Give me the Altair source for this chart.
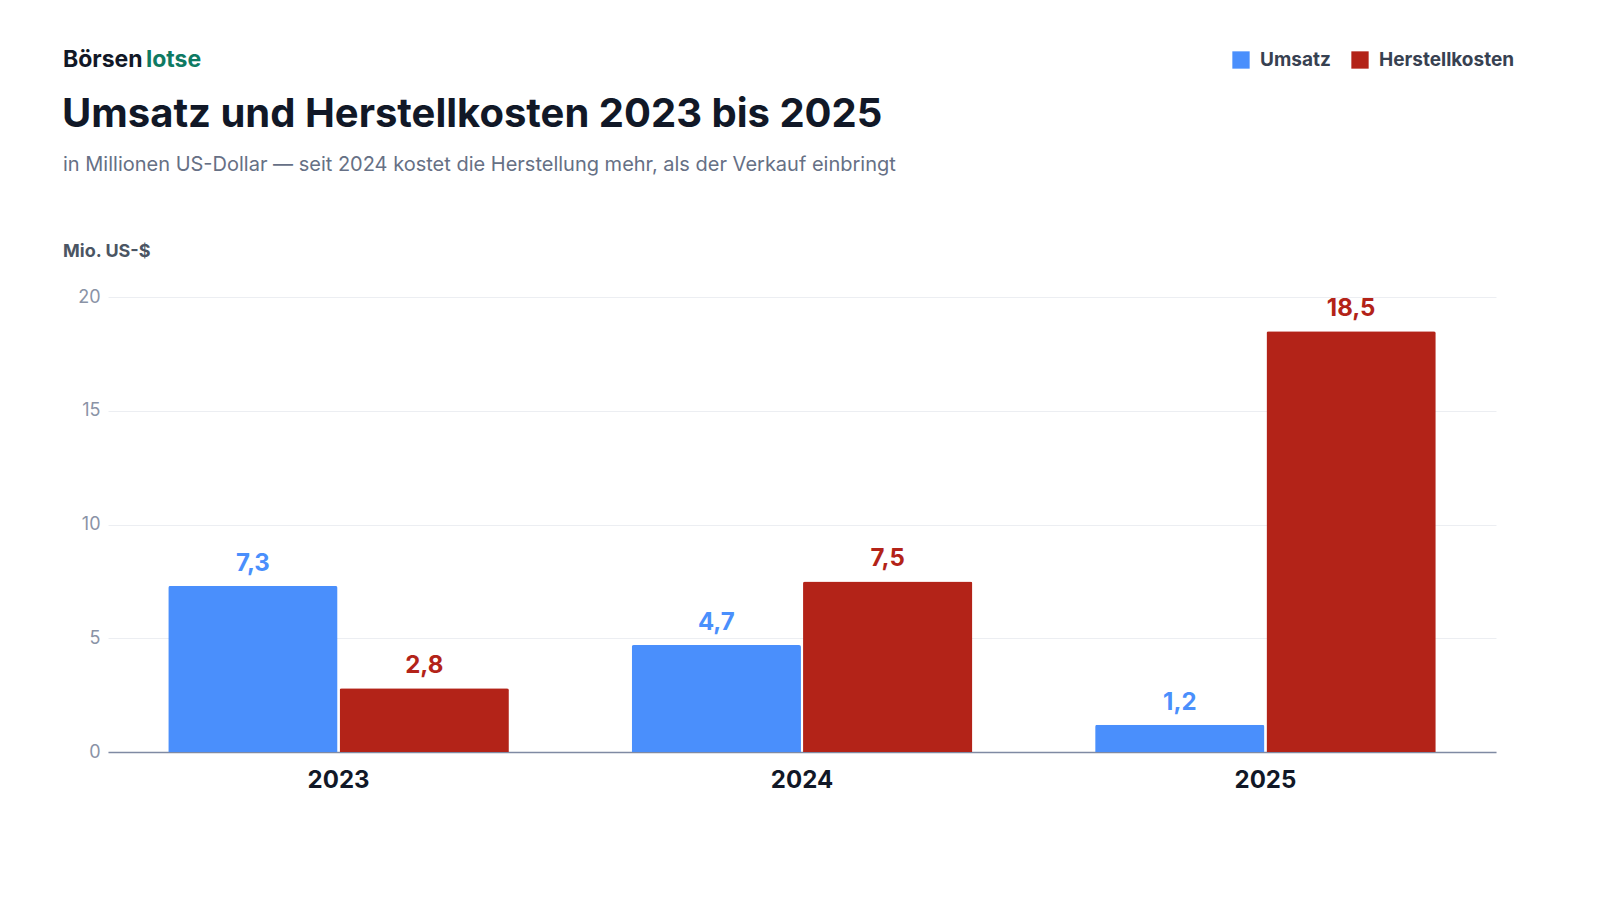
import altair as alt
import pandas as pd

YEARS = ["2023", "2024", "2025"]
SERIES = ["Umsatz", "Herstellkosten"]
UMSATZ = [7.3, 4.7, 1.2]
HERSTELLKOSTEN = [2.8, 7.5, 18.5]
COLORS = ["#4a8ffc", "#b32318"]
FONT = "Inter"
DARK = "#111827"
GREY = "#667085"

rows = []
for i, y in enumerate(YEARS):
    rows.append({"year": y, "series": SERIES[0], "value": UMSATZ[i], "label": f"{UMSATZ[i]:.1f}".replace(".", ",")})
    rows.append({"year": y, "series": SERIES[1], "value": HERSTELLKOSTEN[i], "label": f"{HERSTELLKOSTEN[i]:.1f}".replace(".", ",")})
df = pd.DataFrame(rows)

color = alt.Color("series:N", scale=alt.Scale(domain=SERIES, range=COLORS), legend=None)
x = alt.X("year:N", title=None, scale=alt.Scale(paddingInner=0.265, paddingOuter=0.13),
          axis=alt.Axis(labelAngle=0, labelFont=FONT, labelFontSize=24, labelFontWeight="bold",
                        labelColor=DARK, labelPadding=16, ticks=False, domainColor="#7f8aa3",
                        domainWidth=1.5))
y = alt.Y("value:Q", title=None, scale=alt.Scale(domain=[0, 20]),
          axis=alt.Axis(values=[0, 5, 10, 15, 20], labelFont=FONT, labelFontSize=18,
                        labelColor="#8a93a6", labelPadding=8, ticks=False, domain=False,
                        gridColor="#eceef2"))
xoff = alt.XOffset("series:N", sort=SERIES, scale=alt.Scale(paddingInner=0.012))

base = alt.Chart(df).encode(x=x, xOffset=xoff)
bars = base.mark_bar(cornerRadiusTopLeft=2, cornerRadiusTopRight=2).encode(y=y, color=color)
labels = base.mark_text(dy=-22, font=FONT, fontSize=24, fontWeight="bold").encode(
    y="value:Q", text="label:N", color=color)


def txt(text, px, py, size=18, weight="normal", col=GREY, align="left"):
    return alt.Chart(pd.DataFrame({"t": [text]})).mark_text(
        font=FONT, fontSize=size, fontWeight=weight, color=col, align=align, baseline="middle"
    ).encode(x=alt.value(px), y=alt.value(py), text="t:N")


def square(px, py, col):
    return alt.Chart(pd.DataFrame({"a": [0]})).mark_square(size=300, color=col, opacity=1, cornerRadius=3).encode(
        x=alt.value(px), y=alt.value(py))


extras = [
    txt("Börsen", -45, -237, 23, "bold", DARK),
    txt("lotse", 38, -237, 23, "bold", "#0f7a63"),
    txt("Umsatz und Herstellkosten 2023 bis 2025", -46, -182, 40, "bold", DARK),
    txt("in Millionen US-Dollar — seit 2024 kostet die Herstellung mehr, als der Verkauf einbringt",
        -45, -132, 20, "normal", GREY),
    txt("Mio. US-$", -45, -45, 18, "bold", "#4b5563"),
    txt("Quelle: SEC-Geschäftsbericht 10-K für 2025 (eingereicht 04.03.2026).", -45, 543, 16, "normal", GREY),
    txt("Geschäftsjahr endet am 31. Dezember.", 1397, 543, 16, "normal", GREY, "right"),
    square(1133, -237, COLORS[0]),
    txt("Umsatz", 1152, -237, 19, "bold", "#374151"),
    square(1252, -237, COLORS[1]),
    txt("Herstellkosten", 1271, -237, 19, "bold", "#374151"),
]

chart = alt.layer(bars, labels, *extras).properties(
    width=1388, height=455, background="white",
    padding={"left": 100, "top": 289, "right": 40, "bottom": 70},
    autosize=alt.AutoSizeParams(type="none"),
).configure_view(stroke=None)

chart.save("out.html", embed_options={"renderer": "svg", "actions": False})
